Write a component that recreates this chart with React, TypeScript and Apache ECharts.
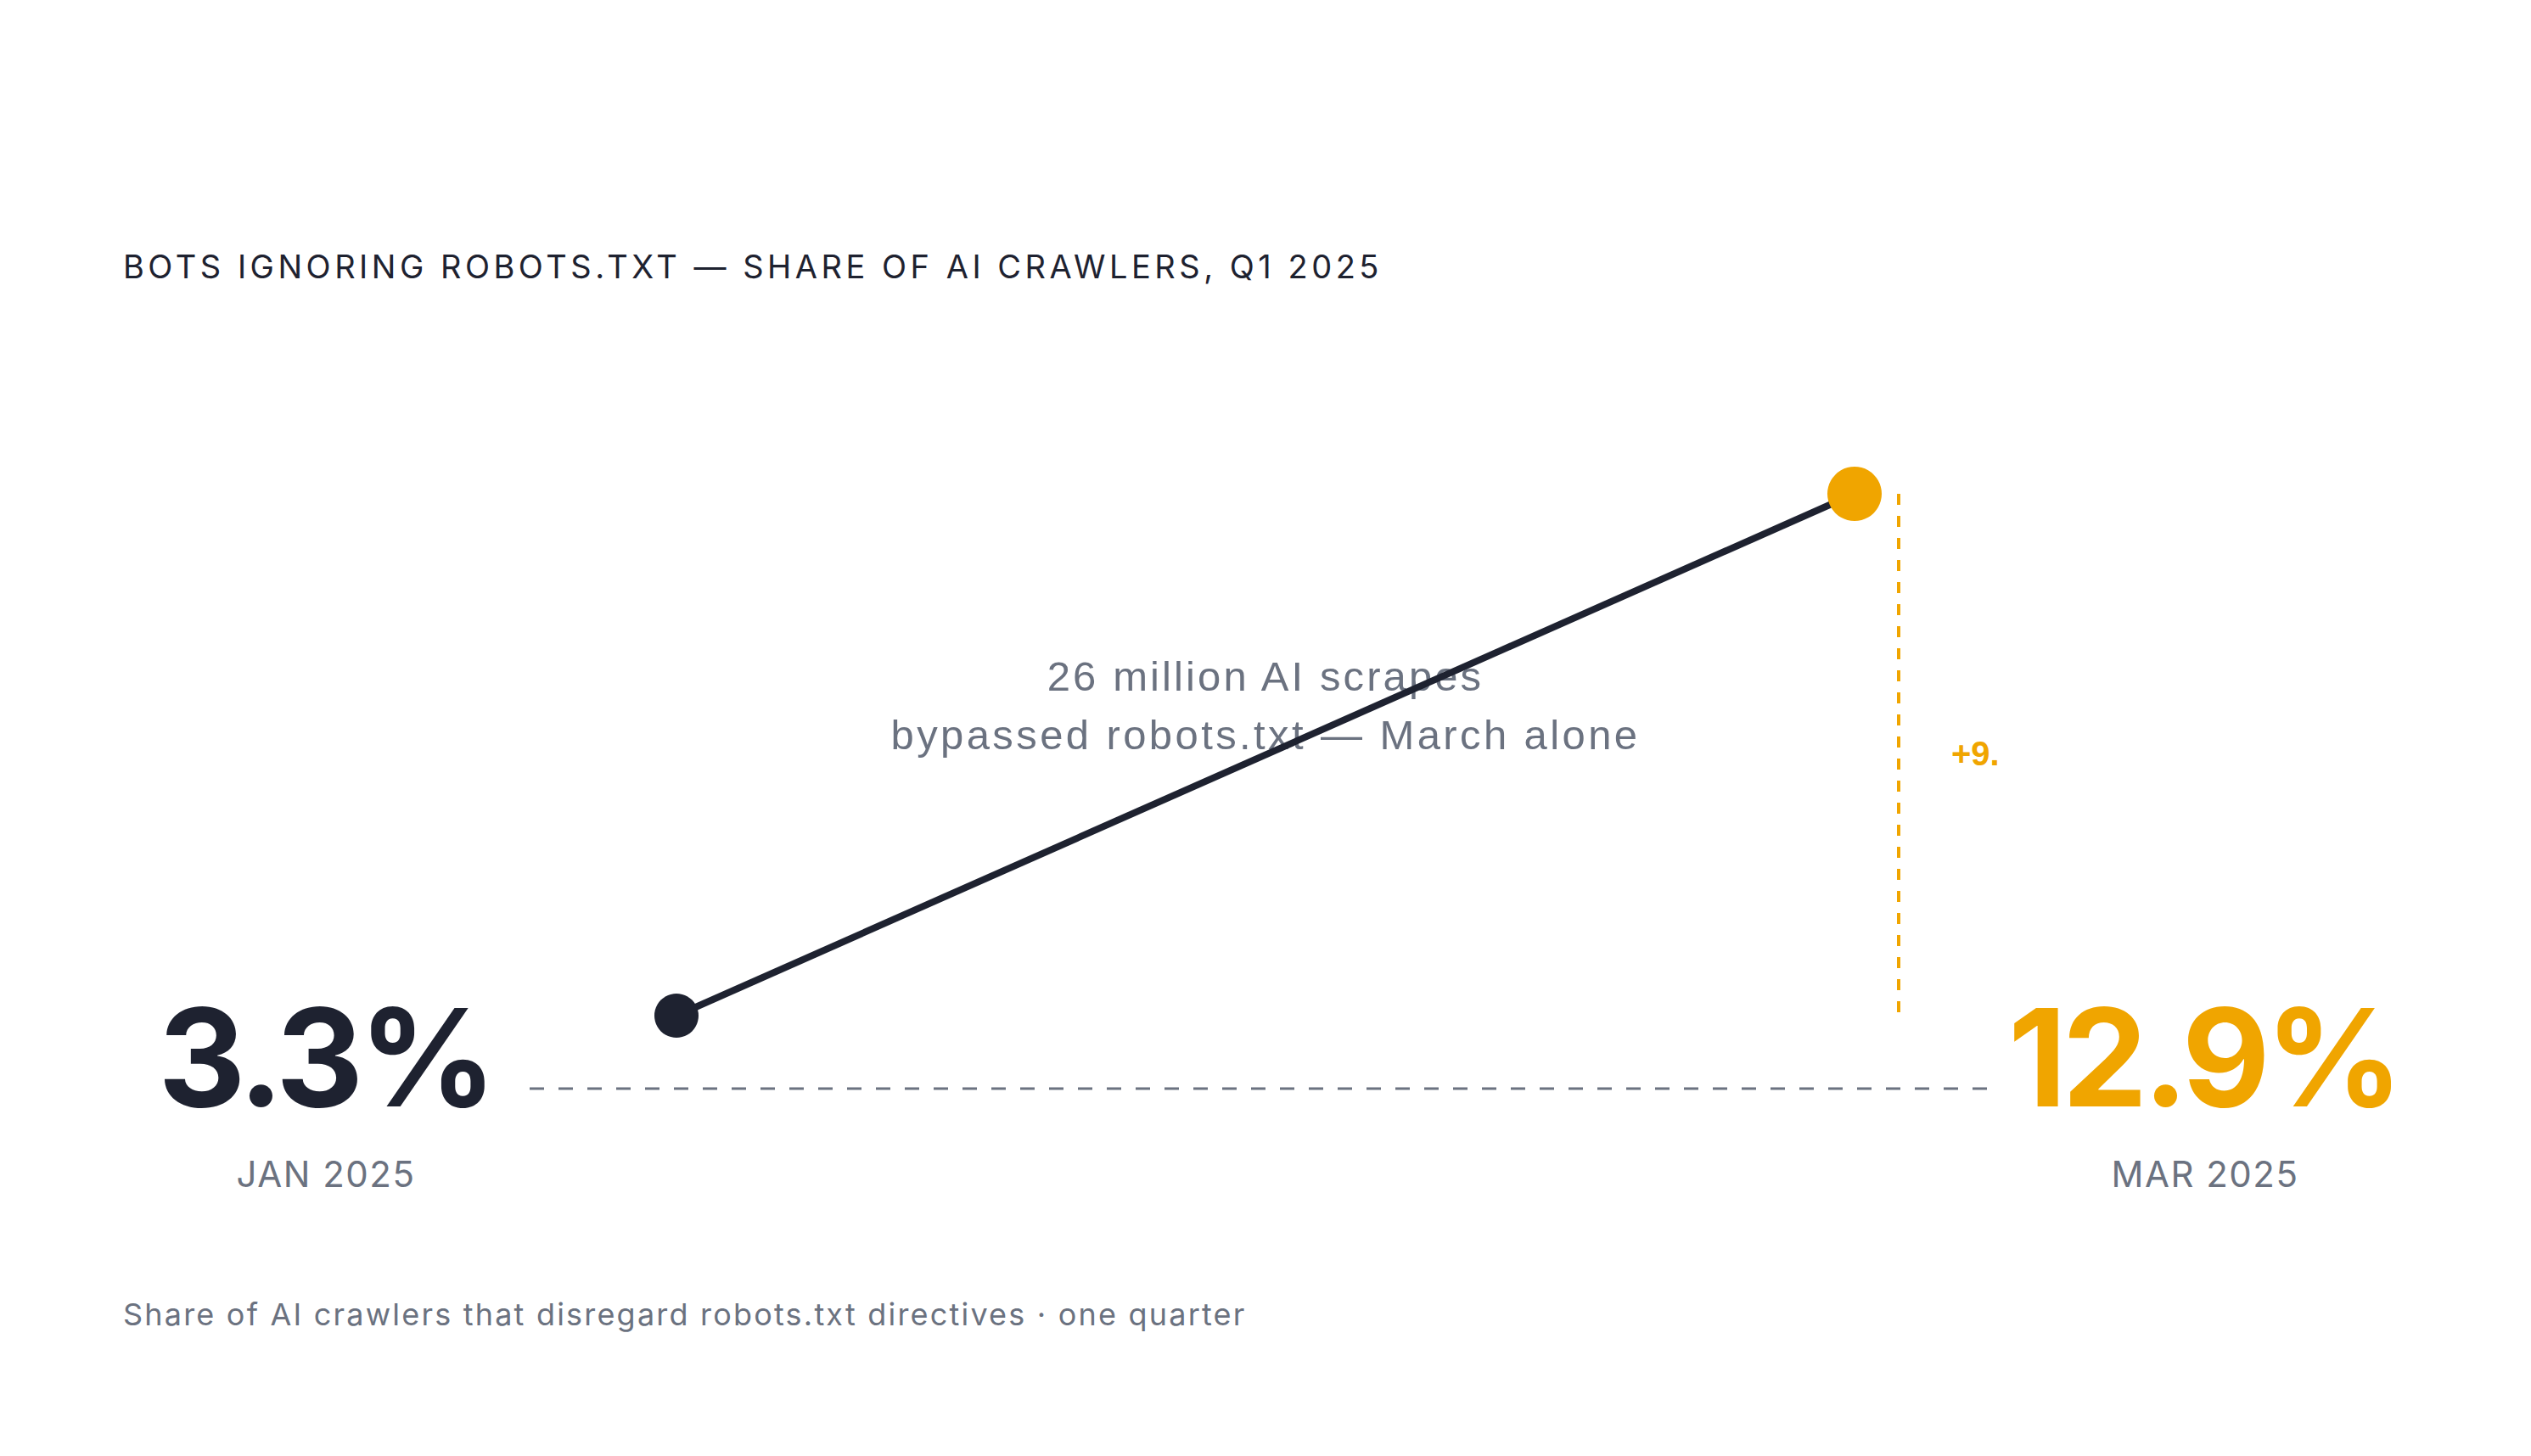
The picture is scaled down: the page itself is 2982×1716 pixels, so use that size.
import * as echarts from 'echarts';
import React, { useEffect, useRef } from 'react';

// chart data
const months = ['JAN 2025', 'MAR 2025'];
const shares = [3.3, 12.9];
const valueLabels = ['3.3%', '12.9%'];
const deltaLabel = '+9.6 pts';
const noteLines = ['26 million AI scrapes', 'bypassed robots.txt — March alone'];
const TITLE = 'BOTS IGNORING ROBOTS.TXT — SHARE OF AI CRAWLERS, Q1 2025';
const FOOTNOTE = 'Share of AI crawlers that disregard robots.txt directives · one quarter';

const DARK = '#1e2230';
const ORANGE = '#f0a500';
const GRAY = '#6b7280';
const INTER = 'Inter, "Noto Sans", sans-serif';
const ARIAL = '"Liberation Sans", Arial, sans-serif';

// letter spacing per text (zrender has no letterSpacing, applied on the svg)
const spacing: Record<string, number> = {
  [TITLE]: 4.5,
  [noteLines[0]]: 3.1,
  [noteLines[1]]: 3.4,
  [months[0]]: 1.5,
  [months[1]]: 1.5,
  [FOOTNOTE]: 2.2,
  [valueLabels[0]]: -5.5,
  [valueLabels[1]]: -5.5,
};

const App: React.FC = () => {
  const chartRef = useRef<HTMLDivElement>(null);

  useEffect(() => {
    const el = chartRef.current!;
    const myChart = echarts.init(el, undefined, { renderer: 'svg' });

    const option = {
      animation: false,
      grid: { left: 797, right: 797, top: 447.5, bottom: 307.6 },
      xAxis: {
        type: 'category',
        data: months,
        boundaryGap: false,
        show: false,
      },
      yAxis: { type: 'value', min: 0, max: 15, show: false },
      series: [
        {
          type: 'line',
          silent: true,
          symbol: 'circle',
          z: 3,
          lineStyle: { color: DARK, width: 8 },
          data: shares.map((v, i) => ({
            value: v,
            symbolSize: i === 0 ? 52 : 64,
            itemStyle: { color: i === 0 ? DARK : ORANGE, borderWidth: 0 },
          })),
        },
      ],
    };

    myChart.setOption(option);

    const p0 = myChart.convertToPixel({ gridIndex: 0 }, [months[0], shares[0]]) as number[];
    const p1 = myChart.convertToPixel({ gridIndex: 0 }, [months[1], shares[1]]) as number[];
    const midX = (p0[0] + p1[0]) / 2;
    const dashX = p1[0] + 52;

    myChart.setOption({
      graphic: [
        {
          type: 'text',
          z: 1,
          silent: true,
          style: {
            text: TITLE, x: 145, y: 314, textAlign: 'left', textVerticalAlign: 'middle',
            fontFamily: INTER, fontSize: 38, fontWeight: 400, fill: DARK,
          },
        },
        ...noteLines.map((t, i) => ({
          type: 'text',
          z: 0,
          silent: true,
          style: {
            text: t, x: midX, y: 797 + i * 69, textAlign: 'center', textVerticalAlign: 'middle',
            fontFamily: ARIAL, fontSize: 49, fill: GRAY,
          },
        })),
        {
          type: 'line',
          silent: true,
          shape: { x1: dashX, y1: p1[1], x2: dashX, y2: p0[1] },
          style: { stroke: ORANGE, lineWidth: 4, lineDash: [13, 13] },
        },
        {
          type: 'text',
          silent: true,
          style: {
            text: deltaLabel, x: dashX + 62, y: (p0[1] + p1[1]) / 2 - 2, textAlign: 'left',
            textVerticalAlign: 'middle', fontFamily: ARIAL, fontSize: 40, fontWeight: 700,
            fill: ORANGE, width: 64, overflow: 'truncate', ellipsis: '',
          },
        },
        {
          type: 'line',
          silent: true,
          shape: { x1: 624, y1: 1283, x2: 2358, y2: 1283 },
          style: { stroke: GRAY, lineWidth: 3, lineDash: [17, 17] },
        },
        ...valueLabels.map((t, i) => ({
          type: 'text',
          silent: true,
          style: {
            text: t, x: i === 0 ? 383 : 2596, y: 1246, textAlign: 'center', textVerticalAlign: 'middle',
            fontFamily: INTER, fontSize: 160, fontWeight: 700, fill: i === 0 ? DARK : ORANGE,
          },
        })),
        ...months.map((t, i) => ({
          type: 'text',
          silent: true,
          style: {
            text: t, x: i === 0 ? 384 : 2598, y: 1383, textAlign: 'center', textVerticalAlign: 'middle',
            fontFamily: INTER, fontSize: 42, fill: GRAY,
          },
        })),
        {
          type: 'text',
          silent: true,
          style: {
            text: FOOTNOTE, x: 145, y: 1549, textAlign: 'left', textVerticalAlign: 'middle',
            fontFamily: INTER, fontSize: 36, fill: GRAY,
          },
        },
      ],
    });

    const applySpacing = () => {
      el.querySelectorAll('text').forEach((t) => {
        const s = spacing[t.textContent || ''];
        if (s) t.setAttribute('letter-spacing', String(s));
      });
    };
    applySpacing();
    myChart.on('rendered', applySpacing);

    return () => {
      myChart.dispose();
    };
  }, []);

  return <div ref={chartRef} style={{ position: 'fixed', left: 0, top: 0, width: '100vw', height: '100vh', background: '#fff' }} />;
};

export default App;
